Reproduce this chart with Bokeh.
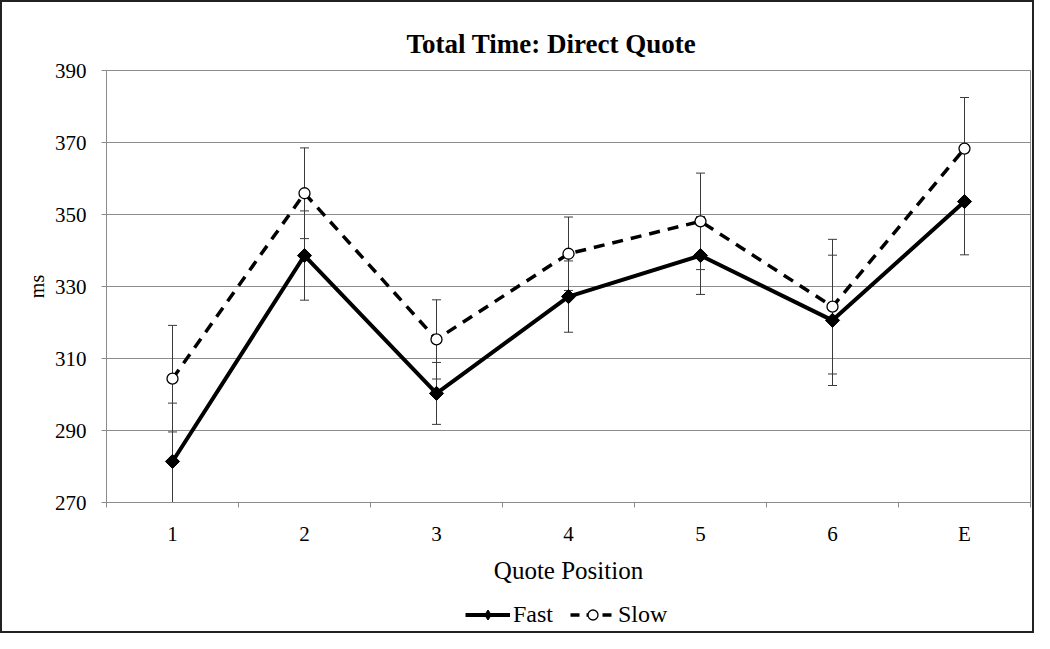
from bokeh.plotting import figure
from bokeh.models import (ColumnDataSource, Whisker, TeeHead, FixedTicker, Legend,
                          LegendItem, Range1d)
from bokeh.layouts import column
from bokeh.embed import file_html
from bokeh.resources import INLINE
import math

categories = ["1", "2", "3", "4", "5", "6", "E"]
fast = [281.4, 338.6, 300.3, 327.2, 338.6, 320.6, 353.6]
fast_err = [16.2, 12.4, 8.6, 9.9, 10.8, 18.1, 14.8]
slow = [304.4, 355.9, 315.3, 339.1, 348.1, 324.4, 368.3]
slow_err = [14.8, 12.6, 11.0, 10.2, 13.4, 18.7, 14.2]
y_ticks = [270, 290, 310, 330, 350, 370, 390]

xs = list(range(1, len(categories) + 1))
FONT = "Liberation Serif"
GRID = "#8c8c8c"

p = figure(width=1030, height=594, output_backend="svg", toolbar_location=None,
           x_range=Range1d(0.5, len(categories) + 0.5), y_range=Range1d(270, 390),
           min_border_left=104, min_border_right=2, min_border_top=68, min_border_bottom=94,
           title="Total Time: Direct Quote")

p.title.align = "left"
p.title.offset = 300
p.title.text_font = FONT
p.title.text_font_size = "27px"
p.title.text_font_style = "bold"
p.title.text_color = "black"
p.title.standoff = 23

p.outline_line_color = GRID
p.outline_line_width = 1
p.background_fill_color = "white"
p.border_fill_color = "white"

# grids
p.xgrid.grid_line_color = None
p.ygrid.grid_line_color = GRID
p.ygrid.grid_line_width = 1
p.ygrid.ticker = FixedTicker(ticks=y_ticks)

# x axis
p.xaxis.ticker = FixedTicker(ticks=xs, minor_ticks=[x - 0.5 for x in xs] + [xs[-1] + 0.5])
p.xaxis.major_label_overrides = {x: c for x, c in zip(xs, categories)}
p.xaxis.major_tick_line_color = None
p.xaxis.major_tick_out = 5
p.xaxis.major_tick_in = 0
p.xaxis.minor_tick_line_color = GRID
p.xaxis.minor_tick_out = 5
p.xaxis.minor_tick_in = 0
p.xaxis.axis_line_color = GRID
p.xaxis.major_label_text_font = FONT
p.xaxis.major_label_text_font_size = "21px"
p.xaxis.major_label_text_color = "black"
p.xaxis.major_label_standoff = 14
p.xaxis.axis_label = "Quote Position"
p.xaxis.axis_label_text_font = FONT
p.xaxis.axis_label_text_font_size = "25px"
p.xaxis.axis_label_text_font_style = "normal"
p.xaxis.axis_label_text_color = "black"
p.xaxis.axis_label_standoff = 8

# y axis
p.yaxis.ticker = FixedTicker(ticks=y_ticks)
p.yaxis.minor_tick_line_color = None
p.yaxis.major_tick_line_color = GRID
p.yaxis.major_tick_out = 5
p.yaxis.major_tick_in = 0
p.yaxis.axis_line_color = GRID
p.yaxis.major_label_text_font = FONT
p.yaxis.major_label_text_font_size = "21px"
p.yaxis.major_label_text_color = "black"
p.yaxis.major_label_standoff = 15
p.yaxis.axis_label = "ms"
p.yaxis.axis_label_text_font = FONT
p.yaxis.axis_label_text_font_size = "20px"
p.yaxis.axis_label_text_font_style = "normal"
p.yaxis.axis_label_text_color = "black"
p.yaxis.axis_label_standoff = 4

src = ColumnDataSource(dict(
    x=xs, fast=fast, slow=slow,
    fast_up=[v + e for v, e in zip(fast, fast_err)],
    fast_lo=[v - e for v, e in zip(fast, fast_err)],
    slow_up=[v + e for v, e in zip(slow, slow_err)],
    slow_lo=[v - e for v, e in zip(slow, slow_err)],
))

ERR = "#3a3a3a"
for up, lo in (("fast_up", "fast_lo"), ("slow_up", "slow_lo")):
    w = Whisker(source=src, base="x", upper=up, lower=lo, line_color=ERR, line_width=1,
                upper_head=TeeHead(size=9, line_color=ERR, line_width=1),
                lower_head=TeeHead(size=9, line_color=ERR, line_width=1),
                level="underlay")
    p.add_layout(w)

FAST_LINE = dict(line_color="black", line_width=4)
FAST_MARK = dict(marker="square", size=10, angle=math.pi / 4, fill_color="black", line_color="black")
SLOW_LINE = dict(line_color="black", line_width=3.5, line_dash="11 8")
SLOW_MARK = dict(marker="circle", size=11, fill_color="white", line_color="black", line_width=1.3)

p.line("x", "fast", source=src, **FAST_LINE)
p.scatter("x", "fast", source=src, **FAST_MARK)
p.line("x", "slow", source=src, **SLOW_LINE)
p.scatter("x", "slow", source=src, **SLOW_MARK)

# legend strip below the chart: same series drawn outside its visible range,
# so only the legend entries show
q = figure(width=1030, height=35, output_backend="svg", toolbar_location=None,
           x_range=Range1d(100, 101), y_range=Range1d(0, 1),
           x_axis_location=None, y_axis_location=None,
           min_border_left=0, min_border_right=0, min_border_top=0, min_border_bottom=0)
q.outline_line_color = None
q.xgrid.grid_line_color = None
q.ygrid.grid_line_color = None
q.border_fill_color = "white"
q.background_fill_color = "white"
lq_fast = q.line("x", "fast", source=src, **FAST_LINE)
mq_fast = q.scatter("x", "fast", source=src, marker="diamond", size=14,
                    fill_color="black", line_color="black")
lq_slow = q.line("x", "slow", source=src, line_color="black", line_width=3.5, line_dash="9 7")
mq_slow = q.scatter("x", "slow", source=src, **SLOW_MARK)

legend = Legend(items=[LegendItem(label="Fast", renderers=[lq_fast, mq_fast]),
                       LegendItem(label="Slow", renderers=[lq_slow, mq_slow])],
                orientation="horizontal", location=(359, 3))
legend.label_text_font = FONT
legend.label_text_font_size = "24px"
legend.label_text_color = "black"
legend.glyph_width = 45
legend.glyph_height = 25
legend.spacing = 17
legend.label_standoff = 3
legend.padding = 2
legend.margin = 0
legend.border_line_color = None
legend.background_fill_alpha = 0
q.add_layout(legend)

layout = column(p, q, spacing=0, styles={"border": "2px solid #222222"})

open("out.html", "w").write(file_html(layout, INLINE))
